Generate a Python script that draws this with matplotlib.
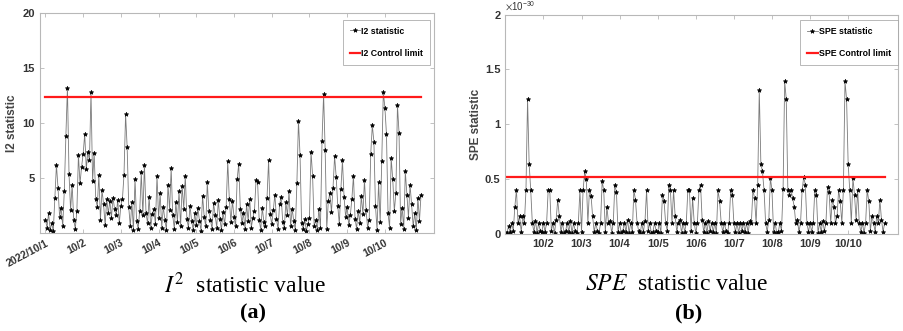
import numpy as np
import matplotlib
matplotlib.use("Agg")
import matplotlib.pyplot as plt
from matplotlib.ticker import ScalarFormatter

plt.rcParams['font.family'] = ['Liberation Sans', 'DejaVu Sans']
plt.rcParams['mathtext.fontset'] = 'stix'

# ---------------- data (hourly samples, 2022/10/1 .. 2022/10/10) ----------------
i2_values = [
    1.2, 0.5, 1.8, 0.3, 0.9, 0.2, 3.2, 6.2, 4.1, 1.5, 2.3, 0.6, 3.8, 8.8, 13.2, 5.4, 2.1, 4.4, 1.2, 0.4, 2.0, 7.1, 4.5, 6.0,
    7.2, 9.0, 5.8, 7.4, 6.6, 12.8, 4.7, 7.3, 3.1, 2.4, 5.3, 1.2, 3.9, 2.6, 0.7, 3.1, 1.8, 2.9, 1.4, 3.2, 2.2, 1.6, 3.0, 0.9,
    2.5, 3.1, 5.3, 10.8, 7.8, 2.4, 0.6, 2.8, 0.3, 4.9, 1.1, 0.4, 2.0, 5.5, 1.6, 6.2, 1.8, 0.9, 3.3, 0.5, 1.7, 2.2, 0.8, 5.2,
    1.4, 3.6, 0.5, 2.4, 1.2, 0.3, 4.4, 2.1, 5.9, 1.6, 0.4, 2.8, 1.0, 3.8, 0.6, 4.3, 2.2, 5.2, 1.3, 0.5, 2.5, 1.1, 0.3, 1.8,
    0.7, 2.3, 1.1, 0.2, 3.4, 1.5, 0.6, 4.6, 2.0, 1.2, 0.4, 2.7, 1.6, 0.5, 3.0, 1.3, 0.3, 1.9, 0.8, 2.4, 6.5, 3.1, 1.0, 2.9,
    1.5, 0.6, 4.9, 6.3, 2.2, 0.9, 1.8, 0.4, 2.6, 1.1, 3.1, 0.5, 1.4, 2.0, 4.8, 4.6, 1.2, 0.3, 2.3, 1.0, 0.6, 3.2, 6.6, 1.7,
    0.8, 2.1, 3.5, 1.3, 0.4, 2.6, 3.3, 1.0, 0.5, 2.8, 1.6, 3.8, 0.6, 2.2, 1.1, 0.3, 4.5, 10.2, 7.1, 0.9, 0.4, 1.3, 0.2, 0.8,
    1.4, 7.4, 5.2, 0.6, 1.2, 0.3, 2.2, 0.5, 8.4, 12.6, 7.5, 0.4, 2.9, 3.6, 1.9, 4.1, 7.0, 5.1, 2.5, 0.8, 4.0, 6.6, 3.3, 1.5,
    2.4, 0.7, 1.6, 3.1, 5.2, 1.3, 0.4, 2.0, 0.9, 3.4, 1.7, 4.8, 2.1, 0.5, 1.2, 7.2, 9.8, 8.3, 2.5, 0.3, 4.6, 1.0, 6.5, 12.8,
    11.4, 9.0, 1.8, 0.5, 6.8, 4.9, 2.0, 3.6, 11.6, 9.1, 0.8, 2.3, 0.4, 5.6, 3.5, 1.4, 4.4, 2.6, 0.6, 1.8, 0.3, 3.2, 1.1, 3.5,
]
i2_limit = 12.35

spe_values_e30 = [
    0.02, 0.01, 0.07, 0.02, 0.10, 0.03, 0.25, 0.40, 0.10, 0.16, 0.02, 0.16, 0.10, 0.40, 1.23, 0.64, 0.40, 0.10, 0.02, 0.12, 0.01, 0.10, 0.03, 0.02,
    0.10, 0.02, 0.10, 0.40, 0.40, 0.03, 0.10, 0.01, 0.13, 0.31, 0.16, 0.02, 0.10, 0.01, 0.03, 0.10, 0.02, 0.12, 0.01, 0.10, 0.03, 0.01, 0.10, 0.40,
    0.02, 0.40, 0.57, 0.50, 0.10, 0.40, 0.35, 0.16, 0.02, 0.10, 0.03, 0.01, 0.10, 0.48, 0.40, 0.02, 0.25, 0.10, 0.12, 0.01, 0.10, 0.45, 0.38, 0.02,
    0.10, 0.01, 0.03, 0.10, 0.02, 0.13, 0.01, 0.10, 0.02, 0.40, 0.31, 0.10, 0.03, 0.01, 0.10, 0.02, 0.12, 0.40, 0.03, 0.10, 0.01, 0.02, 0.10, 0.03,
    0.02, 0.10, 0.01, 0.36, 0.30, 0.10, 0.03, 0.45, 0.40, 0.10, 0.40, 0.16, 0.02, 0.10, 0.13, 0.01, 0.10, 0.02, 0.10, 0.40, 0.40, 0.03, 0.33, 0.10,
    0.01, 0.10, 0.40, 0.45, 0.13, 0.02, 0.10, 0.01, 0.12, 0.03, 0.10, 0.02, 0.10, 0.01, 0.40, 0.30, 0.10, 0.02, 0.10, 0.03, 0.01, 0.10, 0.40, 0.36,
    0.10, 0.02, 0.10, 0.01, 0.10, 0.03, 0.10, 0.02, 0.10, 0.01, 0.12, 0.10, 0.40, 0.33, 0.10, 0.45, 1.31, 0.64, 0.57, 0.40, 0.10, 0.02, 0.13, 0.51,
    0.40, 0.02, 0.10, 0.01, 0.02, 0.10, 0.03, 0.41, 1.39, 1.23, 0.40, 0.36, 0.40, 0.33, 0.25, 0.10, 0.13, 0.02, 0.10, 0.40, 0.52, 0.45, 0.10, 0.02,
    0.10, 0.02, 0.10, 0.40, 0.36, 0.01, 0.10, 0.02, 0.12, 0.03, 0.10, 0.43, 0.38, 0.10, 0.31, 0.25, 0.10, 0.16, 0.40, 0.30, 0.10, 0.40, 1.39, 1.23,
    0.64, 0.40, 0.10, 0.51, 0.36, 0.13, 0.40, 0.10, 0.02, 0.10, 0.01, 0.10, 0.40, 0.30, 0.03, 0.16, 0.10, 0.02, 0.16, 0.10, 0.31, 0.13, 0.02, 0.10,
]
spe_limit_e30 = 0.52

left_tick_labels = ['2022/10/1', '10/2', '10/3', '10/4', '10/5', '10/6', '10/7', '10/8', '10/9', '10/10']
right_tick_labels = ['10/2', '10/3', '10/4', '10/5', '10/6', '10/7', '10/8', '10/9', '10/10']
samples_per_day = 24


class CompactSci(ScalarFormatter):
    def _set_format(self):
        self.format = '%g'


# ---------------- figure ----------------
fig = plt.figure(figsize=(9.04, 3.31), dpi=100)
axL = fig.add_axes([0.044, 0.296, 0.436, 0.665])
axR = fig.add_axes([0.559, 0.293, 0.434, 0.663])

spine_col = '#b8b8b8'
tick_col = '#333333'


def style(ax):
    for s in ax.spines.values():
        s.set_color(spine_col)
        s.set_linewidth(0.8)
    ax.tick_params(direction='in', top=True, right=True, length=3, width=0.6,
                   color=spine_col, labelsize=8, labelcolor=tick_col)
    for lab in ax.get_xticklabels() + ax.get_yticklabels():
        lab.set_fontweight('bold')


t_i2 = np.arange(len(i2_values)) / samples_per_day
t_spe = np.arange(len(spe_values_e30)) / samples_per_day

# Left: I2
axL.plot(t_i2, i2_values, color='#7a7a7a', lw=0.6, marker='*', ms=3.2,
         mfc='black', mec='black', mew=0.5, label='I2 statistic')
axL.plot(t_i2, np.full(len(t_i2), i2_limit), color='#ff1a1a', lw=1.6, label='I2 Control limit')
axL.set_xlim(-0.15, 10.3)
axL.set_ylim(0, 20)
axL.set_yticks([5, 10, 15, 20])
axL.set_xticks(np.arange(len(left_tick_labels)))
axL.set_xticklabels(left_tick_labels, rotation=28, ha='right', rotation_mode='anchor')
axL.set_ylabel('I2 statistic', fontsize=8.5, fontweight='bold', color='#444444')
axL.yaxis.set_label_coords(-0.056, 0.5)
style(axL)
axL.tick_params(axis='x', labelsize=7.5)
legL = axL.legend(loc='upper right', fontsize=6.3, frameon=True, fancybox=False,
                  edgecolor='#999999', handlelength=1.2, labelspacing=1.5,
                  borderpad=0.8, handletextpad=0.1, borderaxespad=0,
                  bbox_to_anchor=(0.99, 0.97))
for txt in legL.get_texts():
    txt.set_fontweight('bold')
legL.get_frame().set_linewidth(0.6)

# Right: SPE
spe_scaled = np.array(spe_values_e30) * 1e-30
axR.plot(t_spe, spe_scaled, color='#7a7a7a', lw=0.6, marker='*', ms=3.2,
         mfc='black', mec='black', mew=0.5, label='SPE statistic')
axR.plot(t_spe, np.full(len(t_spe), spe_limit_e30 * 1e-30), color='#ff1a1a', lw=1.6,
         label='SPE Control limit')
axR.set_xlim(0, 10.3)
axR.set_ylim(0, 2e-30)
axR.set_yticks(np.array([0, 0.5, 1, 1.5, 2]) * 1e-30)
fmt = CompactSci(useMathText=True)
fmt.set_powerlimits((0, 0))
axR.yaxis.set_major_formatter(fmt)
axR.set_xticks(np.arange(1, len(right_tick_labels) + 1))
axR.set_xticklabels(right_tick_labels)
axR.set_ylabel('SPE statistic', fontsize=8.5, fontweight='bold', color='#444444')
axR.yaxis.set_label_coords(-0.059, 0.5)
style(axR)
axR.yaxis.get_offset_text().set_fontsize(7)
axR.yaxis.get_offset_text().set_color(tick_col)
legR = axR.legend(loc='upper right', fontsize=6.3, frameon=True, fancybox=False,
                  edgecolor='#999999', handlelength=1.2, labelspacing=1.5,
                  borderpad=0.8, handletextpad=0.1, borderaxespad=0,
                  bbox_to_anchor=(1.0, 0.975))
for txt in legR.get_texts():
    txt.set_fontweight('bold')
legR.get_frame().set_linewidth(0.6)

# Captions
fig.text(245 / 904, 1 - 285 / 331, r'$I^{2}$  statistic value', ha='center', va='center',
         fontsize=17, family='Liberation Serif')
fig.text(253 / 904, 1 - 313 / 331, '(a)', ha='center', va='center',
         fontsize=16, fontweight='bold', family='Liberation Serif')
fig.text(676 / 904, 1 - 285 / 331, r'$SPE$  statistic value', ha='center', va='center',
         fontsize=17, family='Liberation Serif')
fig.text(689 / 904, 1 - 313 / 331, '(b)', ha='center', va='center',
         fontsize=16, fontweight='bold', family='Liberation Serif')

fig.savefig('out.png', dpi=100)
